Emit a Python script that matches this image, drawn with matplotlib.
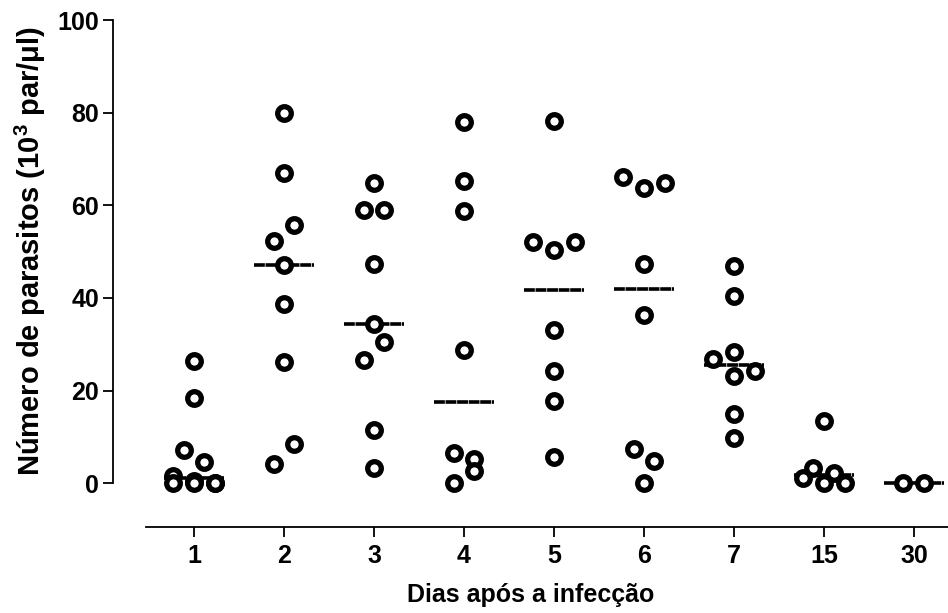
import numpy as np
import matplotlib
matplotlib.use('Agg')
import matplotlib.pyplot as plt

plt.rcParams['font.family'] = ['Liberation Sans', 'DejaVu Sans']
plt.rcParams['font.weight'] = 'bold'
plt.rcParams['mathtext.fontset'] = 'custom'
plt.rcParams['mathtext.bf'] = 'Liberation Sans:bold'
plt.rcParams['mathtext.rm'] = 'Liberation Sans:bold'
plt.rcParams['mathtext.default'] = 'bf'

# days after infection (categories)
days = ['1', '2', '3', '4', '5', '6', '7', '15', '30']

# parasitemia, 10^3 par/ul, one value per animal (entry order)
day1 = [26.5, 18.5, 7.2, 4.5, 1.6, 0.0, 0.5, 0.0, 0.0, 0.0]
day2 = [79.9, 67.0, 52.2, 55.8, 47.2, 38.6, 26.1, 4.1, 8.4]
day3 = [64.8, 58.9, 58.9, 47.4, 34.3, 26.7, 30.5, 11.6, 3.2]
day4 = [77.9, 65.2, 58.7, 28.7, 6.5, 5.2, 0.0, 2.7]
day5 = [78.1, 52.0, 50.4, 52.0, 33.0, 24.2, 17.7, 5.7]
day6 = [66.1, 63.7, 64.8, 47.4, 36.3, 7.3, 4.8, 0.0]
day7 = [46.8, 40.5, 28.3, 26.9, 23.1, 24.2, 14.9, 9.8]
day15 = [13.4, 3.4, 2.2, 1.2, 0.0, 0.0]
day30 = [0.0, 0.0]

groups = [day1, day2, day3, day4, day5, day6, day7, day15, day30]


def swarm_offsets(vals, thr=4.5, max_row=3, step=0.233):
    # group close values into rows, spread each row sideways
    order = sorted(range(len(vals)), key=lambda i: vals[i])
    rows = []
    for i in order:
        if rows and vals[i] - vals[rows[-1][0]] <= thr and len(rows[-1]) < max_row:
            rows[-1].append(i)
        else:
            rows.append([i])
    offs = np.zeros(len(vals))
    for row in rows:
        row = sorted(row)
        n = len(row)
        for k, i in enumerate(row):
            offs[i] = (k - (n - 1) / 2) * step
    return offs


fig = plt.figure(figsize=(9.48, 6.13), dpi=100)
ax = fig.add_axes([113 / 948, 1 - 527 / 613, 835 / 948, 507 / 613])

for pos, vals in enumerate(groups):
    vals = np.array(vals)
    x = pos + swarm_offsets(list(vals))
    ax.plot(x, vals, 'o', ms=9.8, mfc='white', mec='black', mew=3.8,
            clip_on=False, zorder=3)
    # median bar
    med = np.median(vals)
    ax.plot([pos - 0.33, pos + 0.33], [med, med], color='black', lw=2.6,
            ls=(0, (3.0, 0.2)), solid_capstyle='butt', clip_on=False, zorder=2)

ax.set_xlim(-0.9, 8.378)
ax.set_ylim(-9.43, 100)
ax.set_xticks(range(len(days)))
ax.set_xticklabels(days)
ax.set_yticks([0, 20, 40, 60, 80, 100])

ax.spines['top'].set_visible(False)
ax.spines['right'].set_visible(False)
ax.spines['left'].set_bounds(0, 100)
ax.spines['bottom'].set_bounds(-0.533, 8.378)
ax.spines['left'].set_linewidth(1.3)
ax.spines['bottom'].set_linewidth(1.3)
ax.tick_params(axis='both', direction='out', length=7, width=1.3,
               labelsize=18, pad=3)
ax.tick_params(axis='x', pad=5)
for lab in ax.get_xticklabels() + ax.get_yticklabels():
    lab.set_fontweight('bold')

ax.set_xlabel('Dias após a infecção', fontsize=18, fontweight='bold', labelpad=11)
ax.set_ylabel('Número de parasitos (10$^{3}$ par/μl)', fontsize=21,
              fontweight='bold')
ax.yaxis.set_label_coords(-0.0778, 0.5434)

fig.savefig('out.png', dpi=100)
